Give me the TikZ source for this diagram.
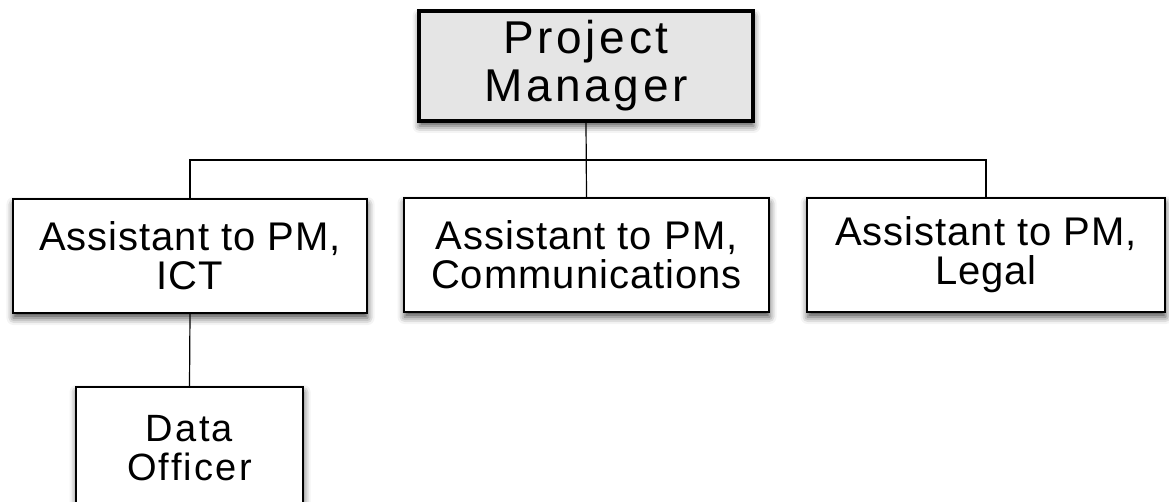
\documentclass[tikz,border=0pt]{standalone}
\usepackage{fontspec}
\setmainfont{Liberation Sans}
\newfontfamily\headfont[LetterSpace=8]{Liberation Sans}
\newfontfamily\stafffont[LetterSpace=2.5]{Liberation Sans}
\newfontfamily\datafont[LetterSpace=6]{Liberation Sans}
\usetikzlibrary{shadows.blur}
\definecolor{headfill}{HTML}{E5E5E5}
\tikzset{
  orgbox/.style={draw=black, fill=white, line width=1.5pt, align=center,
    inner sep=0pt, minimum height=114pt,
    blur shadow={shadow xshift=0.5pt, shadow yshift=-5pt, shadow blur radius=7pt, shadow opacity=70}},
  headbox/.style={orgbox, fill=headfill, line width=3.5pt, minimum width=334pt, minimum height=110pt,
    font=\headfont\fontsize{46}{48}\selectfont},
  staffbox/.style={orgbox, font=\stafffont\fontsize{40}{39}\selectfont},
  link/.style={draw=black, line width=1.2pt}
}
\begin{document}
\begin{tikzpicture}[x=1pt, y=-1pt]
\useasboundingbox (0,0) rectangle (1169,502);

\node[headbox] (pm) at (586,66) {Project\\Manager};

\node[staffbox, minimum width=354pt] (ict) at (190,256) {Assistant to PM,\\ICT};
\node[staffbox, minimum width=365pt] (comm) at (586.5,255) {Assistant to PM,\\Communications};
\node[staffbox, minimum width=358pt] (legal) at (986,255) {Assistant to PM,\\Legal};

\node[orgbox, minimum width=227pt, minimum height=122pt,
      font=\datafont\fontsize{38}{39}\selectfont] (data) at (189.5,448) {Data\\Officer};

% reporting lines
\coordinate (bus) at (586,160);
\draw[link] (pm.south) -- (comm.north);
\draw[link] (ict.north) |- (bus) -| (legal.north);
\draw[link] (ict.south) -- (data.north);
\end{tikzpicture}
\end{document}
